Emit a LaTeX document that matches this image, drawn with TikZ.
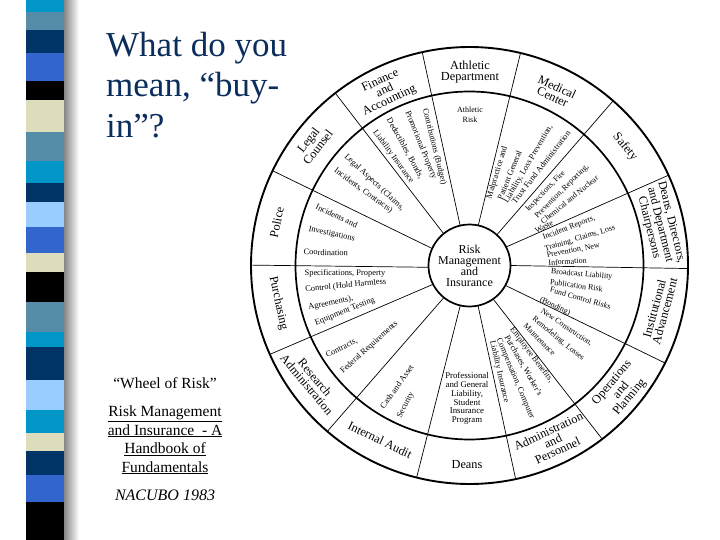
\documentclass[tikz,border=0pt]{standalone}
\usepackage{fontspec}
\setmainfont{Liberation Serif}
\usetikzlibrary{calc}
\definecolor{titleblue}{RGB}{12,46,92}
\definecolor{scyan}{RGB}{0,150,200}
\definecolor{ssteel}{RGB}{85,140,168}
\definecolor{snavy}{RGB}{0,51,102}
\definecolor{sroyal}{RGB}{51,102,204}
\definecolor{sbeige}{RGB}{221,221,187}
\definecolor{slight}{RGB}{153,204,255}
\begin{document}
\begin{tikzpicture}[x=1pt,y=-1pt,
  dept/.style={font=\fontsize{12.3}{10.8}\selectfont, align=center, inner sep=0pt},
  inr/.style={font=\fontsize{8.4}{9}\selectfont, inner sep=0pt},
  tight/.style={font=\fontsize{8}{9}\selectfont},
  spoke/.style={line width=0.7pt},
  ring/.style={line width=1.7pt},
  titletext/.style={font=\fontsize{35}{40}\selectfont, text=titleblue, anchor=base west, inner sep=0pt},
  reftext/.style={font=\fontsize{15.5}{18}\selectfont, anchor=base, inner sep=0pt}]
\useasboundingbox (0,0) rectangle (720,540);
\fill[white] (0,0) rectangle (720,540);
% striped bar
\shade[left color=black!50, right color=white] (63,0) rectangle (79,540);
\foreach \a/\b/\c in {0/12/scyan,12/30/ssteel,30/53/snavy,53/81/sroyal,81/100/black,
  100/132/sbeige,132/161/ssteel,161/183/scyan,183/202/snavy,202/227/slight,227/253/sroyal,
  253/272/sbeige,272/302/black,302/332/ssteel,332/347/scyan,347/380/snavy,380/410/slight,
  410/433/scyan,433/451/sbeige,451/475/snavy,475/502/sroyal,502/540/black}
  \fill[\c] (26,\a) rectangle (64,\b);
% title
\node[titletext] (t1) at (106,57) {What do you};
\node[titletext] (t2) at (106,97) {mean, “buy-};
\node[titletext] (t3) at (106,138) {in”?};
% reference
\node[reftext] (r1) at (165,388) {“Wheel of Risk”};
\node[reftext] (r2) at (165,416) {\underline{Risk Management}};
\node[reftext] (r3) at (165,435) {\underline{and Insurance\ \ - A}};
\node[reftext] (r4) at (165,453.5) {\underline{Handbook of}};
\node[reftext] (r5) at (165,472) {\underline{Fundamentals}};
\node[reftext, font=\fontsize{16}{18}\selectfont\itshape] (r6) at (165,500) {NACUBO 1983};
% wheel
\coordinate (C) at (469.5,265.5);
\draw[ring, line width=1.9pt] (C) circle (218.5);
\draw[ring] (C) circle (174);
\foreach \i/\o in {-129.1/-127.9,-103.2/-102.5,-77.7/-76.5,-48.3/-48.9,-26.8/-24.4,
  0/0.8,29/26.5,54.8/52.6,78/77.8,103/104,128.6/130.6,152.7/156,177.5/180.1,-155.5/-154.3}
  \draw[spoke] ($(C)+(\i:41)$) -- ($(C)+(\o:218.5)$);
\node[circle, draw, ring, fill=white, minimum size=82pt, inner sep=0pt, align=center,
  font=\fontsize{12}{11}\selectfont] (hub) at (C) {Risk\\Management\\and\\Insurance};
% departments
\node[dept] (d1) at (470,72) {Athletic\\Department};
\node[dept, rotate=-25] (d2) at (555,92) {Medical\\Center};
\node[dept, rotate=-50] (d3) at (625,147) {Safety};
\node[dept, rotate=-76, font=\fontsize{12}{11.5}\selectfont] (d4) at (660,225) {Deans, Directors,\\and Department\\Chairpersons};
\node[dept, rotate=75] (d5) at (659.5,310) {Institutional\\Advancement};
\node[dept, rotate=50] (d6) at (621,390) {Operations\\and\\Planning};
\node[dept, rotate=25] (d7) at (553,441) {Administration\\and\\Personnel};
\node[dept] (d8) at (467,465) {Deans};
\node[dept, rotate=-26] (d9) at (380,440) {Internal Audit};
\node[dept, rotate=-50] (d10) at (311,381) {Research\\Administration};
\node[dept, rotate=-78] (d11) at (278.3,303.3) {Purchasing};
\node[dept, rotate=78] (d12) at (276.7,222.3) {Police};
\node[dept, rotate=52] (d13) at (313,143.7) {Legal\\Counsel};
\node[dept, rotate=25] (d14) at (385,91) {Finance\\and\\Accounting};
% inner ring texts
\node[inr, align=center, font=\fontsize{8}{10}\selectfont] (ath) at (470,115) {Athletic\\Risk};
\node[inr, rotate=-54] (f1) at (393.3,156.7) {Liability Insurance};
\node[inr, rotate=-61] (f2) at (405,148.3) {Deductibles, Bonds,};
\node[inr, rotate=-68] (f3) at (420.8,145) {Promotional Property};
\node[inr, rotate=-76] (f4) at (434.2,146.7) {Contributions (Budget)};
\node[inr, rotate=-43] (l1) at (374.2,182.5) {Legal Aspects (Claims,};
\node[inr, rotate=-36] (l2) at (363.3,190.8) {Incidents, Contracts)};
\node[inr, rotate=-25] (p1) at (336.7,215.8) {Incidents and};
\node[inr, rotate=-12] (p2) at (331.7,234.2) {Investigations};
\node[inr, rotate=-2] (p3) at (325.8,252.5) {Coordination};
\node[inr] (u1) at (345,273.3) {Specifications, Property};
\node[inr, rotate=5.6] (u2) at (345.8,285.8) {Control (Hold Harmless};
\node[inr, rotate=12] (u3) at (330.8,303.3) {Agreements),};
\node[inr, rotate=22] (u4) at (345,311.7) {Equipment Testing};
\node[inr, rotate=27] (rs1) at (341.7,348.3) {Contracts,};
\node[inr, rotate=42] (rs2) at (369.2,347.5) {Federal Requirements};
\node[inr, rotate=54.5] (a1) at (396.7,386.7) {Cash and Asset};
\node[inr, rotate=63] (a2) at (405.8,405) {Security};
\node[inr, align=center, font=\fontsize{8.8}{8.7}\selectfont] (dn) at (467,398.5) {Professional\\and General\\Liability,\\Student\\Insurance\\Program};
\node[inr, rotate=-53] (m1) at (531.5,355) {Employee Benefits,};
\node[inr, rotate=-60.5] (m2) at (523.3,365.8) {Purchases, Worker's};
\node[inr, rotate=-67] (m3) at (515.3,378.8) {Compensation, Computer};
\node[inr, rotate=-77] (m4) at (499.2,371.7) {Liability Insurance};
\node[inr, tight, rotate=-34] (o1) at (566.5,327.5) {New Construction,};
\node[inr, tight, rotate=-39.5] (o2) at (558.3,338.8) {Remodeling, Losses};
\node[inr, tight, rotate=-45] (o3) at (539.5,339.5) {Maintenance};
\node[inr, tight, rotate=-5] (i1) at (581.7,274.5) {Broadcast Liability};
\node[inr, tight, rotate=-8] (i2) at (576.5,285.5) {Publication Risk};
\node[inr, tight, rotate=-16] (i3) at (580.5,298) {Fund Control Risks};
\node[inr, tight, rotate=-25] (i4) at (555,306.5) {(Bonding)};
\node[inr, tight, rotate=21] (n1) at (569,228) {Incident Reports,};
\node[inr, tight, rotate=17] (n2) at (580,238.5) {Training, Claims, Loss};
\node[inr, tight, rotate=11] (n3) at (573.3,250.5) {Prevention, New};
\node[inr, tight, rotate=4] (n4) at (567.5,261.5) {Information};
\node[inr, tight, rotate=46] (s1) at (545.5,191.5) {Inspections, Fire};
\node[inr, tight, rotate=45] (s2) at (562,191.5) {Prevention, Reporting,};
\node[inr, tight, rotate=39] (s3) at (569.5,199.5) {Chemical and Nuclear};
\node[inr, tight, rotate=29] (s4) at (544,227) {Waste};
\node[inr, rotate=73] (c1) at (497.3,172.5) {Malpractice and};
\node[inr, rotate=68] (c2) at (509.5,175) {Patient General};
\node[inr, rotate=59.6] (c3) at (528.3,164.2) {Liability, Loss Prevention,};
\node[inr, rotate=52] (c4) at (541,167) {Trust Fund Administration};
\end{tikzpicture}
\end{document}
